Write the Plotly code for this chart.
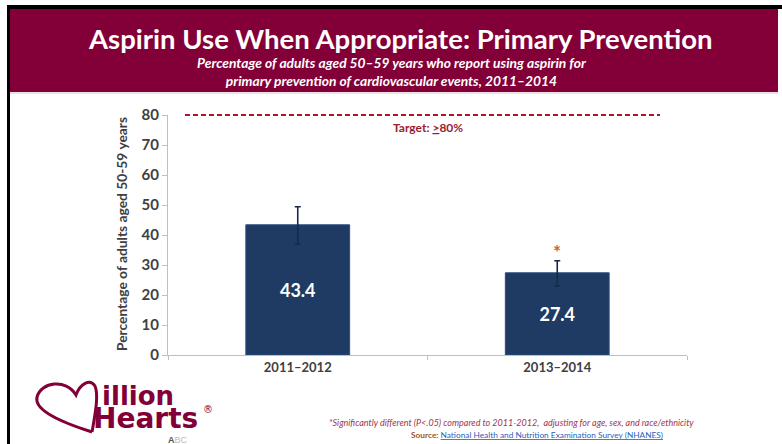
import plotly.graph_objects as go

# ---- data ----
categories = ["2011–2012", "2013–2014"]
values = [43.4, 27.4]
err_plus = [6.0, 4.0]
err_minus = [6.5, 4.4]
value_labels = ["43.4", "27.4"]
significant = [False, True]
target_value = 80
y_max = 80
y_ticks = [0, 10, 20, 30, 40, 50, 60, 70, 80]

W, H = 782, 444
L, R, T, B = 168, 95, 115, 89
PW, PH = W - L - R, H - T - B


def px(x):
    return (x - L) / PW


def py(y):
    return (H - B - y) / PH


MAROON = "#820037"
NAVY = "#1f3b63"
GRAY = "#404040"
FONT = "Lato"

fig = go.Figure()
fig.add_trace(go.Bar(
    x=categories, y=values, width=0.4,
    marker=dict(color=NAVY, line=dict(color="#2c4c7c", width=1)),
    text=value_labels, textposition="inside", insidetextanchor="middle",
    textfont=dict(color="white", size=18, family=FONT, weight="bold"),
    error_y=dict(type="data", symmetric=False, array=err_plus, arrayminus=err_minus,
                 color="#17294a", thickness=1.6, width=3),
    hoverinfo="skip", showlegend=False,
))

shapes = []
# frame + header band
shapes.append(dict(type="rect", xref="paper", yref="paper", x0=px(7), x1=px(782), y0=py(9), y1=py(5),
                   fillcolor="black", line=dict(width=0), layer="below"))
shapes.append(dict(type="rect", xref="paper", yref="paper", x0=px(7), x1=px(10), y0=py(444), y1=py(5),
                   fillcolor="black", line=dict(width=0), layer="below"))
shapes.append(dict(type="rect", xref="paper", yref="paper", x0=px(10), x1=px(778), y0=py(92), y1=py(9),
                   fillcolor=MAROON, line=dict(width=0), layer="below"))
shapes.append(dict(type="line", xref="paper", yref="paper", x0=px(10), x1=px(778), y0=py(93), y1=py(93),
                   line=dict(color="#d9c0c8", width=1), layer="below"))
# target line (paper refs so it is not clipped at the top edge)
shapes.append(dict(type="line", xref="paper", yref="paper", x0=px(185), x1=px(660),
                   y0=target_value / y_max, y1=target_value / y_max,
                   line=dict(color="#b8102a", width=2, dash="5px,3px")))

# heart logo (pixel path -> paper)
heart_pts = [
    ("M", [(92, 432)]),
    ("C", [(70, 425), (33, 412), (37, 397)]),
    ("C", [(41, 382), (66, 378), (76, 395)]),
    ("C", [(80, 384), (90, 378), (95, 386)]),
    ("C", [(99, 395), (95, 415), (92, 432)]),
]
path = ""
for cmd, pts in heart_pts:
    path += cmd + " " + " ".join(f"{px(x):.4f},{py(y):.4f}" for x, y in pts) + " "
shapes.append(dict(type="path", xref="paper", yref="paper", path=path,
                   line=dict(color=MAROON, width=3)))

ann = []
ann.append(dict(x=px(400), y=py(38), xref="paper", yref="paper", text="<b>Aspirin Use When Appropriate: Primary Prevention</b>",
                showarrow=False, font=dict(family=FONT, size=27.5, color="white"), xanchor="center", yanchor="middle"))
ann.append(dict(x=px(392), y=py(71), xref="paper", yref="paper",
                text="<b><i>Percentage of adults aged 50–59 years who report using aspirin for<br>primary prevention of cardiovascular events, 2011–2014</i></b>",
                showarrow=False, font=dict(family=FONT, size=13.8, color="white"), xanchor="center", yanchor="middle"))
ann.append(dict(x=0.5, y=target_value, xref="x", yref="y", text="<b>Target: <u>&gt;</u>80%</b>",
                showarrow=False, font=dict(family=FONT, size=12, color="#9b1b30"), xanchor="center", yanchor="top", yshift=-3))
ann.append(dict(x=px(121), y=py(234), xref="paper", yref="paper", text="Percentage of adults aged 50-59 years",
                textangle=-90, showarrow=False, font=dict(family=FONT, size=13.8, color=GRAY, weight="bold"),
                xanchor="center", yanchor="middle"))
for c, v, e, s in zip(categories, values, err_plus, significant):
    if s:
        ann.append(dict(x=c, y=v + e, xref="x", yref="y", text="<b>*</b>", showarrow=False,
                        font=dict(family=FONT, size=19, color="#c8692c"), xanchor="center", yanchor="bottom", yshift=-4))
# logo text (one block so the two words share a line box)
ann.append(dict(x=px(91), y=py(437), xref="paper", yref="paper",
                text=("<b><span style='font-size:26px'>&nbsp;illion</span><br>"
                      "<span style='font-size:28px'>Hearts</span></b>"),
                showarrow=False, align="left",
                font=dict(family="DejaVu Sans", size=17.7, color=MAROON), xanchor="left", yanchor="bottom"))
ann.append(dict(x=px(201), y=py(409), xref="paper", yref="paper", text="®", showarrow=False,
                font=dict(family="DejaVu Sans", size=10, color=MAROON), xanchor="left", yanchor="middle"))
ann.append(dict(x=px(166), y=py(440), xref="paper", yref="paper", text="<b>A</b><span style='color:#bbbbbb'>BC</span>", showarrow=False,
                font=dict(family="Liberation Sans", size=9, color="#555555"), xanchor="left", yanchor="middle"))
# footnotes
ann.append(dict(x=px(511), y=py(422), xref="paper", yref="paper",
                text="<i>*Significantly different (P&lt;.05) compared to 2011-2012,  adjusting for age, sex, and race/ethnicity</i>",
                showarrow=False, font=dict(family=FONT, size=9, color="#a3344e"), xanchor="center", yanchor="middle"))
ann.append(dict(x=px(537), y=py(435), xref="paper", yref="paper",
                text="<b><span style='color:#a0521e'>Source:</span></b> <u>National Health and Nutrition Examination Survey (NHANES)</u>",
                showarrow=False, font=dict(family=FONT, size=8.3, color="#2b5fb8"), xanchor="center", yanchor="middle"))

fig.update_layout(
    width=W, height=H, margin=dict(l=L, r=R, t=T, b=B),
    paper_bgcolor="white", plot_bgcolor="white",
    shapes=shapes, annotations=ann, bargap=0.6,
    xaxis=dict(showline=True, linecolor="#bfbfbf", linewidth=1, ticks="outside", tickson="boundaries",
               ticklen=4, tickcolor="#bfbfbf", showgrid=False,
               tickfont=dict(family=FONT, size=13, color=GRAY, weight="bold"), range=[-0.5, 1.5]),
    yaxis=dict(range=[0, y_max], tickvals=y_ticks, showline=True, linecolor="#bfbfbf", linewidth=1,
               ticks="outside", ticklen=5, tickcolor="#bfbfbf", showgrid=False, zeroline=False,
               tickfont=dict(family=FONT, size=15, color=GRAY, weight="bold")),
    font=dict(family=FONT),
)
fig.write_html("out.html")
